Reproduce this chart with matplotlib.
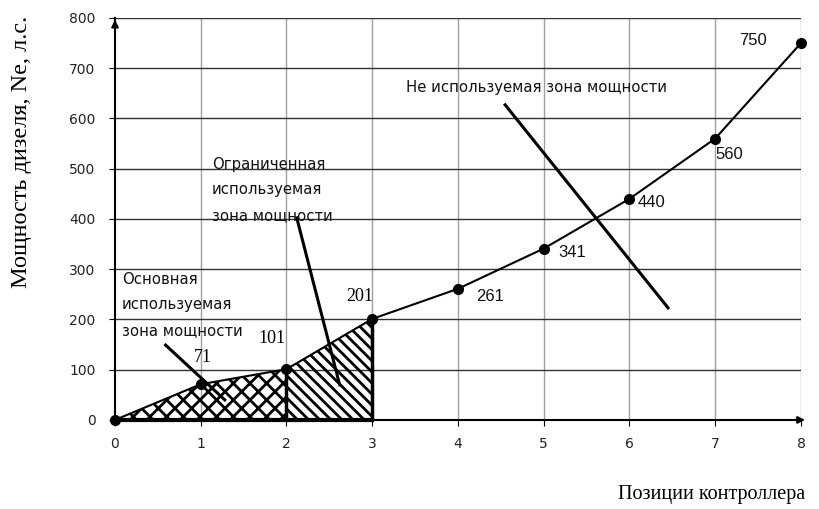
import matplotlib.pyplot as plt
import numpy as np

# data
positions = [0, 1, 2, 3, 4, 5, 6, 7, 8]
power = [0, 71, 101, 201, 261, 341, 440, 560, 750]
value_labels = ['71', '101', '201', '261', '341', '440', '560', '750']
label_pos = [(1.03, 125), (1.83, 163), (2.86, 245), (4.37, 245),
             (5.33, 334), (6.26, 432), (7.16, 529), (7.44, 756)]
label_serif = [True, True, True, False, False, False, False, False]

zone_texts = ['Основная\nиспользуемая\nзона мощности',
              'Ограниченная\nиспользуемая\nзона мощности',
              'Не используемая зона мощности']
zone_text_pos = [(0.08, 295), (1.13, 524), (3.39, 676)]
zone_pointers = [((0.59, 149), (1.28, 40)),
                 ((2.12, 402), (2.62, 70)),
                 ((4.55, 627), (6.45, 223))]

plt.rcParams['hatch.linewidth'] = 2.0

fig = plt.figure(figsize=(8.19, 5.09), dpi=100)
ax = fig.add_axes([0.1404, 0.175, 0.8376, 0.7898])

x = np.array(positions, dtype=float)
y = np.array(power, dtype=float)

# hatched zones
ax.fill_between(x[:3], 0, y[:3], facecolor='none', edgecolor='black',
                hatch='xx', linewidth=0)
ax.fill_between(x[2:4], 0, y[2:4], facecolor='none', edgecolor='black',
                hatch='\\\\\\', linewidth=0)
ax.plot([2, 2], [0, power[2]], color='black', lw=2.5)
ax.plot([3, 3], [0, power[3]], color='black', lw=2.5)
ax.plot([0, 3], [0, 0], color='black', lw=3, clip_on=False, zorder=4)

ax.plot(x, y, color='black', lw=1.5, marker='o', markersize=7, zorder=5,
        clip_on=False)

for t, (px, py), serif in zip(value_labels, label_pos, label_serif):
    if serif:
        ax.text(px, py, t, fontsize=13, family='Liberation Serif',
                ha='center', va='center')
    else:
        ax.text(px, py, t, fontsize=12, family='Liberation Sans',
                ha='center', va='center', color='#111111')

for t, (px, py) in zip(zone_texts, zone_text_pos):
    ax.text(px, py, t, fontsize=10.7, family='DejaVu Sans', ha='left',
            va='top', linespacing=1.9, color='#111111')

for (x0, y0), (x1, y1) in zone_pointers:
    ax.plot([x0, x1], [y0, y1], color='black', lw=2.2)

ax.set_xlim(0, 8)
ax.set_ylim(0, 800)
ax.set_xticks(range(0, 9))
ax.set_yticks(range(0, 801, 100))
ax.tick_params(labelsize=10, direction='out', length=4, color='black',
               labelcolor='#222222')
ax.tick_params(axis='y', pad=10)
ax.tick_params(axis='x', pad=8)

ax.grid(False)
for v in range(1, 9):
    ax.axvline(v, color='#a0a0a0', lw=1, zorder=0)
for h in range(100, 801, 100):
    ax.axhline(h, color='#333333', lw=1, zorder=0)

ax.spines['top'].set_visible(False)
ax.spines['right'].set_visible(False)
ax.spines['left'].set_linewidth(1.5)
ax.spines['bottom'].set_linewidth(1.5)

# axis arrows
ax.annotate('', xy=(0, 802), xytext=(0, 778),
            arrowprops=dict(arrowstyle='-|>', color='black', lw=1.5),
            annotation_clip=False)
ax.annotate('', xy=(8.08, 0), xytext=(7.9, 0),
            arrowprops=dict(arrowstyle='-|>', color='black', lw=1.5),
            annotation_clip=False)

fig.text(22 / 819, 1 - 152 / 509, 'Мощность дизеля, Ne, л.с.',
         family='Liberation Serif', fontsize=17.5, rotation=90,
         ha='center', va='center')
fig.text(0.983, 0.028, 'Позиции контроллера', family='Liberation Serif',
         fontsize=14.5, ha='right', va='center')

fig.savefig('out.png', dpi=100)
